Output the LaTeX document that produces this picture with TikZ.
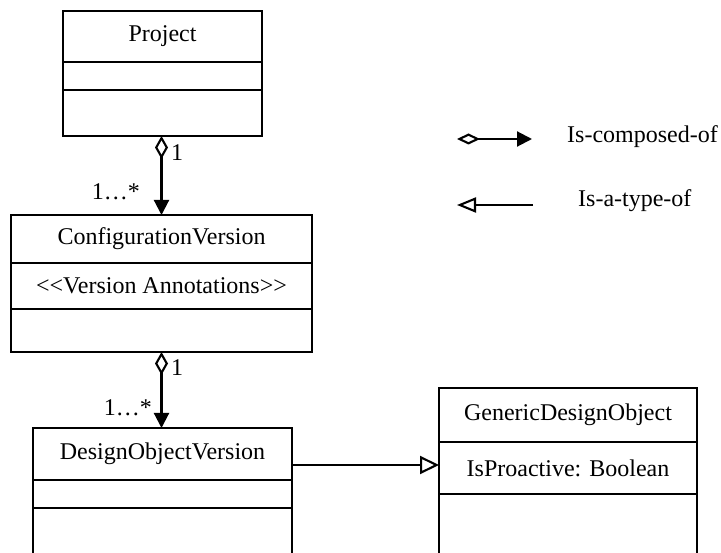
\documentclass[tikz,border=0pt]{standalone}
\usepackage{fontspec}
\setmainfont{Liberation Serif}
\usetikzlibrary{arrows.meta,positioning}
\tikzset{
  uml text/.style={font=\fontsize{24}{28}\selectfont},
  class box/.style={uml text,draw,line width=2.1pt,inner sep=0pt,outer sep=0pt},
  mult/.style={uml text,inner sep=0pt},
  composed/.style={line width=2.1pt,{Diamond[open,length=23pt,width=13pt]}-{Triangle[length=15pt,width=15pt]}},
  type of/.style={line width=2.1pt,-{Triangle[open,length=19pt,width=18pt]}}
}

\begin{document}
\begin{tikzpicture}[x=1pt,y=-1pt,line cap=butt,line join=miter]
  \clip[use as bounding box] (0,0) rectangle (721,553);

  % Project
  \node[class box, minimum width=199pt, minimum height=51pt] (project) at (162.5,36.5) {Project};
  \node[class box, minimum width=199pt, minimum height=28pt, below=0pt of project] (project attr) {};
  \node[class box, minimum width=199pt, minimum height=46pt, below=0pt of project attr] (project ops) {};

  % ConfigurationVersion
  \node[class box, minimum width=301pt, minimum height=48pt] (config) at (161.5,239) {ConfigurationVersion};
  \node[class box, minimum width=301pt, minimum height=46pt, below=0pt of config] (config attr) {{<}{<}Version Annotations{>}{>}};
  \node[class box, minimum width=301pt, minimum height=43pt, below=0pt of config attr] (config ops) {};

  % DesignObjectVersion
  \node[class box, minimum width=259pt, minimum height=52pt] (dov) at (162.5,454) {DesignObjectVersion};
  \node[class box, minimum width=259pt, minimum height=28pt, below=0pt of dov] (dov attr) {};
  \node[class box, minimum width=259pt, minimum height=70pt, below=0pt of dov attr] (dov ops) {};

  % GenericDesignObject
  \node[class box, minimum width=258pt, minimum height=54pt] (gdo) at (568,415) {GenericDesignObject};
  \node[class box, minimum width=258pt, minimum height=52pt, below=0pt of gdo] (gdo attr) {IsProactive: Boolean};
  \node[class box, minimum width=258pt, minimum height=80pt, below=0pt of gdo attr] (gdo ops) {};

  % associations
  \draw[composed] (config.north |- project ops.south) -- (config.north);
  \draw[composed] (config ops.south) -- (config ops.south |- dov.north);
  \draw[type of] ([yshift=-11pt]dov.east) -- ([yshift=-11pt]dov.east -| gdo attr.west);

  \node[mult] (mult a) at (177,153) {1};
  \node[mult, anchor=east] (mult b) at (140,192) {1…*};
  \node[mult] (mult c) at (177,368) {1};
  \node[mult, anchor=east] (mult d) at (152,408) {1…*};

  % legend
  \coordinate (leg comp a) at (457,139);
  \coordinate (leg comp b) at (532,139);
  \draw[line width=2.1pt,{Diamond[open,length=23pt,width=11pt]}-{Triangle[length=15pt,width=15pt]}] (leg comp a) -- (leg comp b);
  \node[mult, anchor=west] (leg comp) at (567,137) {Is-composed-of};
  \coordinate (leg type a) at (533,205);
  \coordinate (leg type b) at (457,205);
  \draw[line width=2.1pt,-{Triangle[open,length=19pt,width=15pt]}] (leg type a) -- (leg type b);
  \node[mult, anchor=west] (leg type) at (578,201) {Is-a-type-of};
\end{tikzpicture}
\end{document}
